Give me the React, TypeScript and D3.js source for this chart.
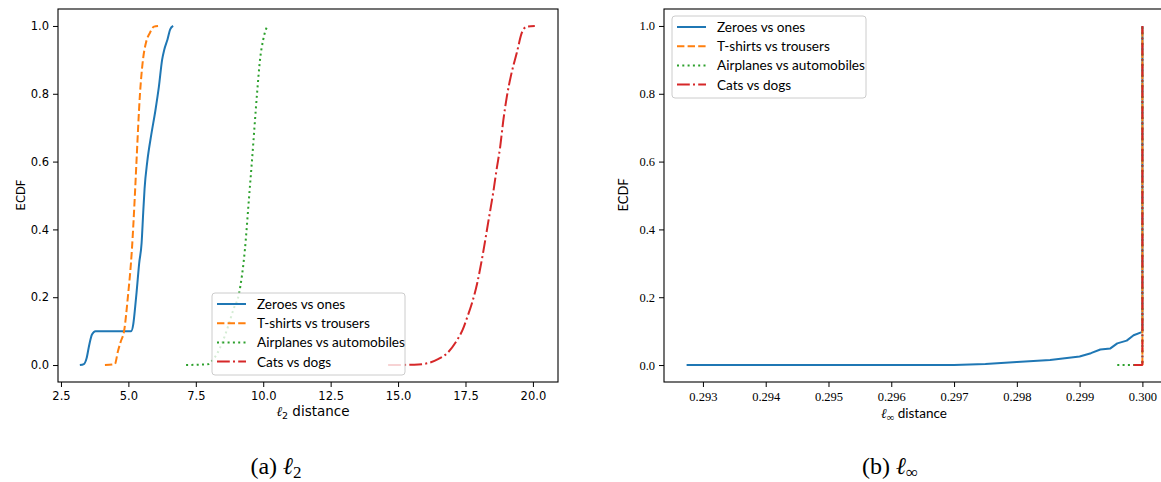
import React, { useEffect, useRef } from 'react';
import * as d3 from 'd3';

// ECDF comparison — l2 (a) and l-infinity (b) distances per class pair
const seriesNames = ['Zeroes vs ones', 'T-shirts vs trousers', 'Airplanes vs automobiles', 'Cats vs dogs'];
const colors = ['#1f77b4', '#ff7f0e', '#2ca02c', '#d62728'];
const dashes = ['none', '7.4,3.2', '2,3.3', '12.8,3.2,2,3.2'];

// (a) l2 distance, [x, ecdf]
const l2Zeroes: [number, number][] = [
  [3.2, 0], [3.35, 0.003], [3.45, 0.02], [3.55, 0.06], [3.65, 0.09], [3.78, 0.1], [5.1, 0.1], [5.18, 0.12],
  [5.25, 0.17], [5.31, 0.22], [5.4, 0.3], [5.49, 0.36], [5.55, 0.45], [5.6, 0.52], [5.7, 0.6], [5.85, 0.68],
  [6.0, 0.75], [6.13, 0.82], [6.25, 0.9], [6.33, 0.93], [6.45, 0.96], [6.55, 0.99], [6.66, 1.0],
];
const l2Tshirts: [number, number][] = [
  [4.13, 0], [4.5, 0.003], [4.61, 0.04], [4.72, 0.07], [4.84, 0.1], [4.98, 0.2], [5.13, 0.34], [5.24, 0.5],
  [5.3, 0.6], [5.43, 0.8], [5.54, 0.9], [5.65, 0.95], [5.8, 0.98], [5.95, 0.998], [6.1, 1.0],
];
const l2Airplanes: [number, number][] = [
  [7.14, 0], [7.99, 0.003], [8.1, 0.012], [8.3, 0.035], [8.5, 0.07], [8.7, 0.115], [8.9, 0.165], [9.1, 0.21],
  [9.32, 0.34], [9.47, 0.49], [9.58, 0.6], [9.77, 0.8], [9.88, 0.9], [10.0, 0.96], [10.1, 0.99], [10.18, 1.0],
];
const l2Cats: [number, number][] = [
  [14.63, 0], [15.6, 0.001], [16.07, 0.005], [16.5, 0.018], [16.82, 0.035], [17.19, 0.074], [17.4, 0.105],
  [17.56, 0.14], [17.75, 0.185], [17.93, 0.24], [18.15, 0.33], [18.34, 0.42], [18.53, 0.51], [18.66, 0.58],
  [18.78, 0.64], [18.9, 0.72], [19.03, 0.79], [19.19, 0.855], [19.4, 0.92], [19.59, 0.98], [19.77, 0.998],
  [20.07, 1.0],
];

// (b) l-infinity distance
const linfZeroes: [number, number][] = [
  [0.29274, 0], [0.297, 0], [0.2975, 0.003], [0.298, 0.009], [0.29853, 0.015], [0.299, 0.025], [0.29918, 0.035],
  [0.29933, 0.046], [0.29949, 0.049], [0.2996, 0.064], [0.29975, 0.072], [0.29986, 0.088], [0.3, 0.098], [0.3, 1.0],
];
const linfTshirts: [number, number][] = [[0.29999, 0], [0.3, 0.001], [0.3, 1.0]];
const linfAirplanes: [number, number][] = [[0.2996, 0], [0.29997, 0], [0.3, 0.003], [0.3, 1.0]];
const linfCats: [number, number][] = [[0.29986, 0], [0.29999, 0], [0.3, 0.002], [0.3, 1.0]];

const yTicks = [0, 0.2, 0.4, 0.6, 0.8, 1.0];
const l2Ticks = [2.5, 5.0, 7.5, 10.0, 12.5, 15.0, 17.5, 20.0];
const linfTicks = [0.293, 0.294, 0.295, 0.296, 0.297, 0.298, 0.299, 0.3];

const SANS = '"DejaVu Sans", sans-serif';
const SERIF = '"Liberation Serif", "DejaVu Serif", serif';
const LEG = 'Lato, "Open Sans", sans-serif';

export default function App() {
  const svgRef = useRef<SVGSVGElement | null>(null);

  useEffect(() => {
    const svg = d3.select(svgRef.current);
    svg.selectAll('*').remove();

    const drawPanel = (opts: {
      series: [number, number][][]; xDomain: [number, number]; xRange: [number, number];
      xTicks: number[]; xFmt: (d: number) => string; tickFont: string; tickSize: number;
      legend: { x: number; y: number; w: number; h: number };
    }) => {
      const x = d3.scaleLinear().domain(opts.xDomain).range(opts.xRange);
      const y = d3.scaleLinear().domain([-0.05, 1.05]).range([382, 9]);
      const g = svg.append('g');
      const [x0, x1] = opts.xRange;

      // series (vertical steps drawn straight, the rest smoothed)
      const smooth = d3.line<[number, number]>().x(d => x(d[0])).y(d => y(d[1])).curve(d3.curveMonotoneX);
      const straight = d3.line<[number, number]>().x(d => x(d[0])).y(d => y(d[1]));
      opts.series.forEach((s, i) => {
        const hasStep = s.some((p, j) => j > 0 && p[0] === s[j - 1][0]);
        g.append('path').datum(s)
          .attr('d', hasStep ? straight(s) : smooth(s))
          .attr('fill', 'none').attr('stroke', colors[i]).attr('stroke-width', 2)
          .attr('stroke-dasharray', dashes[i]).attr('stroke-linejoin', 'round');
      });

      // frame
      g.append('rect').attr('x', x0).attr('y', 9).attr('width', x1 - x0).attr('height', 373)
        .attr('fill', 'none').attr('stroke', '#000').attr('stroke-width', 1.1);

      // axes
      const yAxis = g.append('g').attr('transform', `translate(${x0},0)`)
        .call(d3.axisLeft(y).tickValues(yTicks).tickFormat(d3.format('.1f')).tickSize(5).tickPadding(4));
      const xAxis = g.append('g').attr('transform', 'translate(0,382)')
        .call(d3.axisBottom(x).tickValues(opts.xTicks).tickFormat(opts.xFmt as any).tickSize(5).tickPadding(5));
      [yAxis, xAxis].forEach(a => {
        a.select('.domain').remove();
        a.selectAll('line').attr('stroke', '#000');
        a.selectAll('text').attr('font-family', opts.tickFont).attr('font-size', opts.tickSize).attr('fill', '#000');
      });

      // legend
      const L = opts.legend;
      const lg = g.append('g').attr('transform', `translate(${L.x},${L.y})`);
      lg.append('rect').attr('width', L.w).attr('height', L.h).attr('rx', 3)
        .attr('fill', 'rgba(255,255,255,0.8)').attr('stroke', '#ccc');
      seriesNames.forEach((name, i) => {
        const ry = 11 + i * 19.2;
        lg.append('line').attr('x1', 5).attr('x2', 34).attr('y1', ry).attr('y2', ry)
          .attr('stroke', colors[i]).attr('stroke-width', 2).attr('stroke-dasharray', dashes[i]);
        lg.append('text').attr('x', 45).attr('y', ry + 5).attr('font-family', LEG).attr('font-size', 13.6)
          .attr('fill', '#000').text(name);
      });
      return g;
    };

    const left = drawPanel({
      series: [l2Zeroes, l2Tshirts, l2Airplanes, l2Cats], xDomain: [2.39, 20.93], xRange: [58, 558],
      xTicks: l2Ticks, xFmt: d3.format('.1f'), tickFont: SANS, tickSize: 11.5,
      legend: { x: 212, y: 293, w: 193, h: 82 },
    });
    left.append('text').attr('transform', 'translate(25,195) rotate(-90)').attr('text-anchor', 'middle')
      .attr('font-family', SANS).attr('font-size', 11.5).text('ECDF');
    const l2Label = left.append('text').attr('x', 313).attr('y', 416).attr('text-anchor', 'middle')
      .attr('font-family', SANS).attr('font-size', 13.5);
    l2Label.append('tspan').attr('font-family', SERIF).attr('font-style', 'italic').text('ℓ');
    l2Label.append('tspan').attr('font-size', 9.5).attr('dy', 3).text('2');
    l2Label.append('tspan').attr('dy', -3).text(' distance');

    const right = drawPanel({
      series: [linfZeroes, linfTshirts, linfAirplanes, linfCats], xDomain: [0.29238, 0.30036], xRange: [664, 1165],
      xTicks: linfTicks, xFmt: d3.format('.3f'), tickFont: SERIF, tickSize: 12.5,
      legend: { x: 672, y: 16, w: 194, h: 82 },
    });
    right.append('text').attr('transform', 'translate(628,195) rotate(-90)').attr('text-anchor', 'middle')
      .attr('font-family', LEG).attr('font-size', 13).text('ECDF');
    const linfLabel = right.append('text').attr('x', 914).attr('y', 418).attr('text-anchor', 'middle')
      .attr('font-family', LEG).attr('font-size', 13.5);
    linfLabel.append('tspan').attr('font-family', SERIF).attr('font-style', 'italic').text('ℓ');
    linfLabel.append('tspan').attr('font-family', SERIF).attr('font-size', 10.5).attr('dy', 3).text('∞');
    linfLabel.append('tspan').attr('dy', -3).text(' distance');

    // captions
    const cap = (cx: number, tag: string, sub: string) => {
      const t = svg.append('text').attr('x', cx).attr('y', 474).attr('text-anchor', 'middle')
        .attr('font-family', SERIF).attr('font-size', 24);
      t.append('tspan').text(`(${tag}) `);
      t.append('tspan').attr('font-style', 'italic').text('ℓ');
      t.append('tspan').attr('font-size', 17).attr('dy', 4).text(sub);
    };
    cap(276, 'a', '2');
    cap(890, 'b', '∞');
  }, []);

  return (
    <svg ref={svgRef} width={1161} height={482}
      style={{ position: 'fixed', left: 0, top: 0, background: '#fff', display: 'block' }} />
  );
}
